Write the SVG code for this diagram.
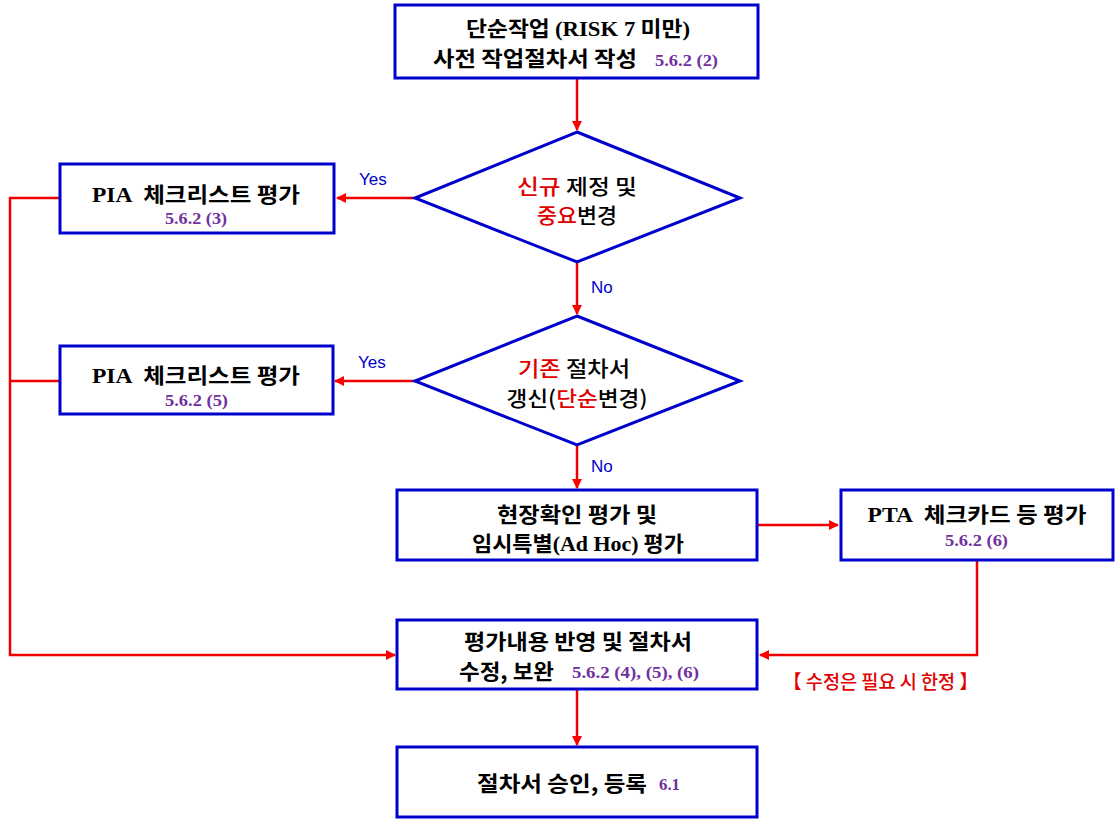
<svg xmlns="http://www.w3.org/2000/svg" width="1115" height="820" viewBox="0 0 1115 820">
<defs>
<marker id="ah" viewBox="0 0 10 10" refX="9" refY="5" markerWidth="4" markerHeight="4" orient="auto" markerUnits="strokeWidth">
<path d="M0,0 L10,5 L0,10 z" fill="#ff0000"/>
</marker>
<style>
.box{fill:#fff;stroke:#0000cc;stroke-width:3}
.dia{fill:#fff;stroke:#0000cc;stroke-width:3}
.ln{fill:none;stroke:#ee0000;stroke-width:2.5}
.k{font-family:"Noto Sans CJK KR","Liberation Sans",sans-serif;font-weight:bold;font-size:21px;fill:#000;white-space:pre}
.kd{font-family:"Noto Sans CJK KR","Liberation Sans",sans-serif;font-weight:500;font-size:21px;fill:#000}
.s{font-family:"Liberation Serif","Noto Sans CJK KR",serif;font-weight:bold}
.ref{font-family:"Liberation Serif",serif;font-weight:bold;font-size:17px;fill:#7030a0}
.r{fill:#e00000}
.yn{font-family:"Liberation Sans","Noto Sans",sans-serif;font-size:17px;fill:#0000cc}
.note{font-family:"Noto Sans CJK KR",sans-serif;font-weight:500;font-size:19px;fill:#e00000}
</style>
</defs>
<rect width="1115" height="820" fill="#fff"/>
<g id="connectors">
<path class="ln" d="M577,78 V130" marker-end="url(#ah)"/>
<path class="ln" d="M415,198 H337" marker-end="url(#ah)"/>
<path class="ln" d="M577,262 V314" marker-end="url(#ah)"/>
<path class="ln" d="M415,381 H335" marker-end="url(#ah)"/>
<path class="ln" d="M577,445 V488" marker-end="url(#ah)"/>
<path class="ln" d="M757,525 H838" marker-end="url(#ah)"/>
<path class="ln" d="M977,560 V655 H760" marker-end="url(#ah)"/>
<path class="ln" d="M60,198 H10 V655 H395" marker-end="url(#ah)"/>
<path class="ln" d="M60,381 H10"/>
<path class="ln" d="M577,689 V745" marker-end="url(#ah)"/>
<text class="yn" x="359" y="185">Yes</text>
<text class="yn" x="358" y="368">Yes</text>
<text class="yn" x="591" y="293">No</text>
<text class="yn" x="591" y="472">No</text>
<text class="note" x="783" y="689" textLength="195" lengthAdjust="spacingAndGlyphs">【 수정은 필요 시 한정 】</text>
</g>
<g id="n1">
<rect class="box" x="395" y="5" width="363" height="73"/>
<text class="k" x="578" y="36" text-anchor="middle" textLength="224" lengthAdjust="spacingAndGlyphs">단순작업 <tspan class="s">(RISK 7</tspan> 미만<tspan class="s">)</tspan></text>
<text class="k" x="433" y="66" textLength="204" lengthAdjust="spacingAndGlyphs">사전 작업절차서 작성</text>
<text class="ref" x="655" y="66" textLength="63" lengthAdjust="spacingAndGlyphs">5.6.2 (2)</text>
</g>
<g id="d1">
<polygon class="dia" points="577,132 740,198 577,262 415,198"/>
<text class="kd" x="577" y="194" text-anchor="middle" textLength="120" lengthAdjust="spacingAndGlyphs"><tspan class="r">신규</tspan> 제정 및</text>
<text class="kd" x="577" y="223" text-anchor="middle" textLength="80" lengthAdjust="spacingAndGlyphs"><tspan class="r">중요</tspan>변경</text>
</g>
<g id="p1">
<rect class="box" x="60" y="164" width="274" height="69"/>
<text class="k" x="196" y="202" text-anchor="middle" textLength="208" lengthAdjust="spacingAndGlyphs"><tspan class="s">PIA</tspan>  체크리스트 평가</text>
<text class="ref" x="165" y="224" textLength="62" lengthAdjust="spacingAndGlyphs">5.6.2 (3)</text>
</g>
<g id="d2">
<polygon class="dia" points="577,316 740,381 577,445 415,381"/>
<text class="kd" x="574" y="376" text-anchor="middle" textLength="112" lengthAdjust="spacingAndGlyphs"><tspan class="r">기존</tspan> 절차서</text>
<text class="kd" x="577" y="406" text-anchor="middle" textLength="141" lengthAdjust="spacingAndGlyphs">갱신(<tspan class="r">단순</tspan>변경)</text>
</g>
<g id="p2">
<rect class="box" x="60" y="346" width="273" height="68"/>
<text class="k" x="196" y="383" text-anchor="middle" textLength="208" lengthAdjust="spacingAndGlyphs"><tspan class="s">PIA</tspan>  체크리스트 평가</text>
<text class="ref" x="165" y="406" textLength="63" lengthAdjust="spacingAndGlyphs">5.6.2 (5)</text>
</g>
<g id="n2">
<rect class="box" x="397" y="490" width="360" height="70"/>
<text class="k" x="577" y="522" text-anchor="middle" textLength="160" lengthAdjust="spacingAndGlyphs">현장확인 평가 및</text>
<text class="k" x="578" y="551" text-anchor="middle" textLength="212" lengthAdjust="spacingAndGlyphs">임시특별<tspan class="s">(Ad Hoc)</tspan> 평가</text>
</g>
<g id="n3">
<rect class="box" x="841" y="490" width="272" height="70"/>
<text class="k" x="977" y="522" text-anchor="middle" textLength="219" lengthAdjust="spacingAndGlyphs"><tspan class="s">PTA</tspan>  체크카드 등 평가</text>
<text class="ref" x="945" y="546" textLength="63" lengthAdjust="spacingAndGlyphs">5.6.2 (6)</text>
</g>
<g id="n4">
<rect class="box" x="397" y="620" width="360" height="69"/>
<text class="k" x="578" y="649" text-anchor="middle" textLength="228" lengthAdjust="spacingAndGlyphs">평가내용 반영 및 절차서</text>
<text class="k" x="459" y="679" textLength="95" lengthAdjust="spacingAndGlyphs">수정, 보완</text>
<text class="ref" x="572" y="678" textLength="127" lengthAdjust="spacingAndGlyphs">5.6.2 (4), (5), (6)</text>
</g>
<g id="n5">
<rect class="box" x="397" y="747" width="360" height="70"/>
<text class="k" x="477" y="791" textLength="170" lengthAdjust="spacingAndGlyphs">절차서 승인, 등록</text>
<text class="ref" x="659" y="790" textLength="21" lengthAdjust="spacingAndGlyphs">6.1</text>
</g>
</svg>
